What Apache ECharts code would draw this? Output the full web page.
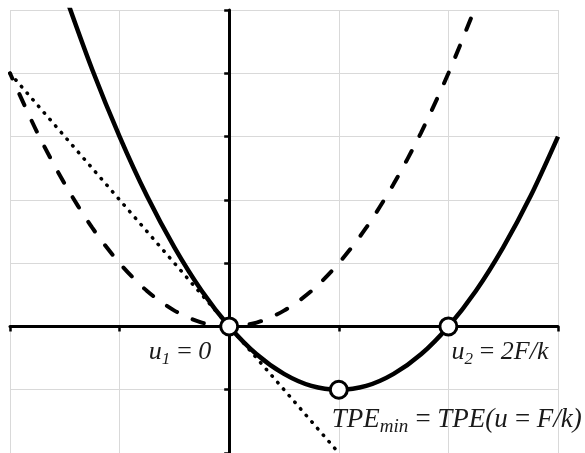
<!DOCTYPE html>
<html>
<head>
<meta charset="utf-8">
<script src="https://cdn.jsdelivr.net/npm/echarts@6/dist/echarts.min.js"></script>
<style>
  html, body { margin: 0; padding: 0; background: #ffffff; }
  #chart { width: 585px; height: 453px; }
</style>
</head>
<body>
<div id="chart"></div>
<script>
// Axis ranges and tick spacing
const xRange = [-2, 3];
const yRange = [-2, 5];
const tickStep = 1;

// Total potential energy TPE(u) (solid curve)
const uSolid = [-1.5, -1.25, -1, -0.75, -0.5, -0.25, 0, 0.25, 0.5, 0.75, 1, 1.25, 1.5, 1.75, 2, 2.25, 2.5, 2.75, 3];
const tpeValues = [5.25, 4.06, 3, 2.06, 1.25, 0.56, 0, -0.44, -0.75, -0.94, -1, -0.94, -0.75, -0.44, 0, 0.56, 1.25, 2.06, 3];

// Strain energy (dashed curve)
const uDashed = [-2, -1.75, -1.5, -1.25, -1, -0.75, -0.5, -0.25, 0, 0.25, 0.5, 0.75, 1, 1.25, 1.5, 1.75, 2, 2.25];
const strainValues = [4, 3.06, 2.25, 1.56, 1, 0.56, 0.25, 0.06, 0, 0.06, 0.25, 0.56, 1, 1.56, 2.25, 3.06, 4, 5.06];

// Potential of the load (dotted line)
const uDotted = [-2, 1.05];
const loadValues = [4, -2.1];

// Marked points: u1, the minimum, u2
const uMarks = [0, 1, 2];
const markValues = [0, -1, 0];

const pairs = (xs, ys) => xs.map((x, i) => [x, ys[i]]);

const textFont = 'Liberation Serif';
const textColor = '#1a1a1a';
const richStyles = {
  m: { fontFamily: textFont, fontStyle: 'italic', fontSize: 26, lineHeight: 30, color: textColor },
  s: { fontFamily: textFont, fontStyle: 'italic', fontSize: 17, lineHeight: 16, padding: [14, 0, 0, 0], color: textColor },
  big: { fontFamily: textFont, fontStyle: 'italic', fontSize: 27, lineHeight: 32, color: textColor },
  bs: { fontFamily: textFont, fontStyle: 'italic', fontSize: 19, lineHeight: 18, padding: [14, 0, 0, 0], color: textColor }
};
const eq = '\u2009=\u2009';

const markLabels = [
  { text: '{m|u}{s|1}{m|' + eq + '0}', align: 'right', offset: [-18, 26] },
  { text: '{big|TPE}{bs|min}{big|' + eq + 'TPE(u' + eq + 'F/k)}', align: 'left', offset: [-7, 30] },
  { text: '{m|u}{s|2}{m|' + eq + '2F/k}', align: 'left', offset: [3, 26] }
];

const chart = echarts.init(document.getElementById('chart'), null, { renderer: 'canvas' });

const axisCommon = {
  type: 'value',
  interval: tickStep,
  axisLabel: { show: false },
  axisLine: { show: true, onZero: true, lineStyle: { color: '#000', width: 3 } },
  axisTick: { show: true, length: 5, lineStyle: { color: '#000', width: 2.5 } },
  splitLine: { show: true, lineStyle: { color: '#d9d9d9', width: 1 } }
};

chart.setOption({
  animation: false,
  backgroundColor: '#ffffff',
  grid: { left: 10, top: 10, width: 548, height: 446, containLabel: false },
  xAxis: Object.assign({}, axisCommon, { min: xRange[0], max: xRange[1] }),
  yAxis: Object.assign({}, axisCommon, { min: yRange[0], max: yRange[1] }),
  series: [
    {
      type: 'line',
      data: pairs(uDotted, loadValues),
      showSymbol: false,
      clip: true,
      lineStyle: { color: '#000', width: 3.5, type: [0.5, 8.2], cap: 'round' },
      z: 2
    },
    {
      type: 'line',
      data: pairs(uDashed, strainValues),
      showSymbol: false,
      smooth: 0.3,
      clip: true,
      lineStyle: { color: '#000', width: 4, type: [12, 17], dashOffset: 6, cap: 'round' },
      z: 3
    },
    {
      type: 'line',
      data: pairs(uSolid, tpeValues),
      showSymbol: false,
      smooth: 0.3,
      clip: true,
      lineStyle: { color: '#000', width: 4.5 },
      z: 4
    },
    {
      type: 'scatter',
      symbol: 'circle',
      symbolSize: 17,
      itemStyle: { color: '#ffffff', borderColor: '#000', borderWidth: 3, opacity: 1 },
      z: 5,
      data: pairs(uMarks, markValues).map((p, i) => ({
        value: p,
        label: {
          show: true,
          position: 'inside',
          formatter: markLabels[i].text,
          align: markLabels[i].align,
          verticalAlign: 'middle',
          offset: markLabels[i].offset,
          rich: richStyles
        }
      }))
    }
  ]
});
</script>
</body>
</html>
